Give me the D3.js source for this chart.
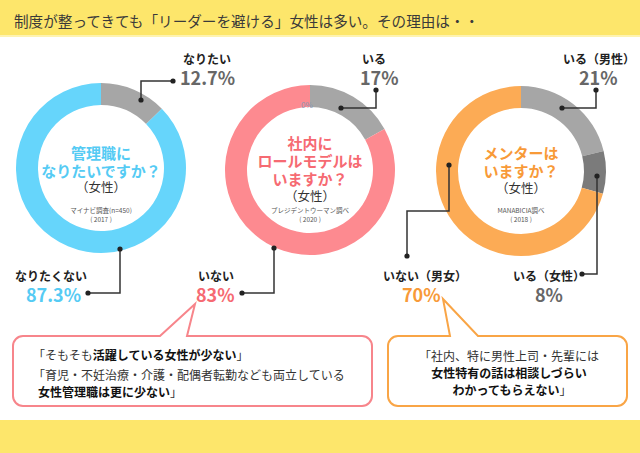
<!DOCTYPE html>
<html><head><meta charset="utf-8">
<script src="https://cdn.jsdelivr.net/npm/d3@7"></script>
<style>
html,body{margin:0;padding:0;background:#fff;}
svg{display:block;font-family:"Noto Sans CJK JP","Noto Sans",sans-serif;}
</style></head>
<body><svg id="c" width="640" height="453"></svg>
<script>
// ---- data ----
const titleText = "制度が整ってきても「リーダーを避ける」女性は多い。その理由は・・";
const chart1Labels = ["なりたい", "なりたくない"];
const chart1Values = [12.7, 87.3];
const chart2Labels = ["いる", "いない"];
const chart2Values = [17, 83];
const chart3Labels = ["いる（男性）", "いる（女性）", "いない（男女）"];
const chart3Values = [21, 8, 70];
const chart1Center = ["管理職に", "なりたいですか？"];
const chart2Center = ["社内に", "ロールモデルは", "いますか？"];
const chart3Center = ["メンターは", "いますか？"];
const sources = [["マイナビ調査(n=450)", "( 2017 )"], ["プレジデントウーマン調べ", "( 2020 )"], ["MANABICIA調べ", "( 2018 )"]];

const svg = d3.select("#c");
const YELLOW = "#fde66b";
const BLUE = "#66d5fb", BLUE_T = "#55cbf4";
const RED = "#fd8a90", RED_T = "#f66a72";
const ORANGE = "#fcab55", ORANGE_T = "#f89a38";
const GRAY = "#a6a6a6", DGRAY = "#7b7b7b", NUM_GRAY = "#676767";

// header & footer
svg.append("rect").attr("x",0).attr("y",0).attr("width",640).attr("height",35).attr("fill",YELLOW);
svg.append("rect").attr("x",0).attr("y",35).attr("width",640).attr("height",2).attr("fill","#fef3b0");
svg.append("rect").attr("x",0).attr("y",420).attr("width",640).attr("height",33).attr("fill",YELLOW);
svg.append("text").attr("x",14).attr("y",20).attr("dominant-baseline","central")
  .attr("font-size",14.6).attr("fill","#3a3a3a").text(titleText);

const arc = d3.arc().innerRadius(63).outerRadius(85);
const pie = d3.pie().sort(null).value(d => d);

function donut(cx, cy, values, colors){
  const g = svg.append("g").attr("transform",`translate(${cx},${cy})`);
  g.selectAll("path").data(pie(values)).join("path")
    .attr("d", arc).attr("fill",(d,i)=>colors[i]);
  return g;
}
const g1 = donut(101,168,chart1Values,[GRAY,BLUE]);
const g2 = donut(310,170,chart2Values,[GRAY,RED]);
const g3 = donut(521,171,chart3Values,[GRAY,DGRAY,ORANGE]);

function centerText(g, lines, ys, color, smallY, src){
  const t = g.append("text").attr("text-anchor","middle").attr("dominant-baseline","central");
  lines.forEach((s,i)=>t.append("tspan").attr("x",0).attr("y",ys[i]).attr("dominant-baseline","central")
    .attr("font-size",15).attr("font-weight","bold").attr("fill",color).text(s));
  t.append("tspan").attr("x",0).attr("y",ys[lines.length]).attr("dominant-baseline","central")
    .attr("font-size",12.5).attr("fill","#333").text("（女性）");
  const s2 = g.append("text").attr("text-anchor","middle").attr("font-size",6.5).attr("fill","#555");
  src.forEach((s,i)=>s2.append("tspan").attr("x",0).attr("y",smallY+i*9).attr("dominant-baseline","central").text(s));
}
centerText(g1, chart1Center, [-16,2,18], BLUE_T, 42, sources[0]);
centerText(g2, chart2Center, [-28,-10,8,25], RED_T, 40, sources[1]);
centerText(g3, chart3Center, [-19,-1,16], ORANGE_T, 39, sources[2]);

// 0% label on chart 2
svg.append("text").attr("x",307).attr("y",104).attr("text-anchor","middle").attr("dominant-baseline","central")
  .attr("font-size",8).attr("fill","#8797b5").text("0%");

// labels
function label(x, y, name, value, color){
  const t = svg.append("text").attr("font-weight","bold");
  t.append("tspan").attr("x",x[0]).attr("y",y).attr("dominant-baseline","central")
    .attr("font-size",12).attr("fill","#222").text(name);
  t.append("tspan").attr("x",x[1]).attr("y",y+19).attr("dominant-baseline","central")
    .attr("font-size",18).attr("fill",color).text(value + "%");
}
label([183,180],58,chart1Labels[0],chart1Values[0],NUM_GRAY);
label([15,26],275,chart1Labels[1],chart1Values[1],BLUE_T);
label([362,360],58,chart2Labels[0],chart2Values[0],NUM_GRAY);
label([198,196],275,chart2Labels[1],chart2Values[1],RED_T);
label([563,579],58,chart3Labels[0],chart3Values[0],NUM_GRAY);
label([513,535],275,chart3Labels[1],chart3Values[1],NUM_GRAY);
label([383,402],275,chart3Labels[2],chart3Values[2],ORANGE_T);

// leaders
const leaders = [
  [[141,100],[141,81],[173,81]],
  [[120,249],[120,293],[88,293]],
  [[341,108],[376,108],[376,90]],
  [[274,248],[274,293],[242,293]],
  [[562,108],[596,108],[596,90]],
  [[597,176],[597,274],[582,274]],
  [[449,165],[449,211],[407,211],[407,256]]
];
const line = d3.line();
leaders.forEach(pts=>{
  svg.append("path").attr("d",line(pts)).attr("fill","none").attr("stroke","#333").attr("stroke-width",1.5);
  [pts[0],pts[pts.length-1]].forEach(p=>svg.append("circle").attr("cx",p[0]).attr("cy",p[1]).attr("r",2.6).attr("fill","#222"));
});

// callouts
function callout(x0,y0,x1,y1,r,t0,t1,tip,color){
  const p = d3.path();
  p.moveTo(x0+r,y0);
  p.lineTo(t0,y0); p.lineTo(tip[0],tip[1]); p.lineTo(t1,y0);
  p.lineTo(x1-r,y0); p.arcTo(x1,y0,x1,y0+r,r);
  p.lineTo(x1,y1-r); p.arcTo(x1,y1,x1-r,y1,r);
  p.lineTo(x0+r,y1); p.arcTo(x0,y1,x0,y1-r,r);
  p.lineTo(x0,y0+r); p.arcTo(x0,y0,x0+r,y0,r);
  p.closePath();
  svg.append("path").attr("d",p.toString()).attr("fill","#fff").attr("stroke",color).attr("stroke-width",2);
}
callout(13,336,372,406,10,160,187,[195,304],"#f7858b");
callout(388,336,627,406,10,450,478,[443,299],"#f9a546");

function richText(x,y,parts,anchor){
  const t = svg.append("text").attr("x",x).attr("y",y).attr("dominant-baseline","central")
    .attr("font-size",12).attr("fill","#333").attr("text-anchor",anchor||"start");
  parts.forEach(([s,b])=>t.append("tspan").attr("font-weight",b?"bold":"normal").attr("fill",b?"#111":"#333").text(s));
}
richText(33,354,[["「そもそも",0],["活躍している女性が少ない",1],["」",0]]);
richText(33,374,[["「育児・不妊治療・介護・配偶者転勤なども両立している",0]]);
richText(38,391,[["女性管理職は更に少ない",1],["」",0]]);
richText(509,355,[["「社内、特に男性上司・先輩には",0]],"middle");
richText(509,372,[["女性特有の話は相談しづらい",1]],"middle");
richText(512,389,[["わかってもらえない",1],["」",0]],"middle");
</script></body></html>
